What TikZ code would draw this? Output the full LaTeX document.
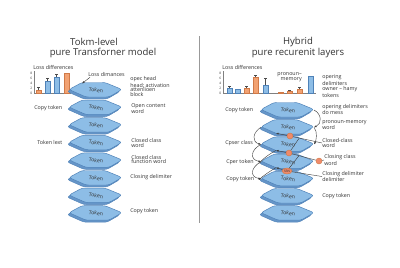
\documentclass[tikz,border=0pt]{standalone}
\usepackage{fontspec}
\setmainfont{Open Sans}
\usetikzlibrary{arrows.meta,shapes.geometric}
\definecolor{tokfill}{HTML}{8DBDE6}
\definecolor{tokline}{HTML}{4F82B8}
\definecolor{tokshade}{HTML}{6595C8}
\definecolor{barblue}{HTML}{8DBDE6}
\definecolor{barorange}{HTML}{F2A272}
\definecolor{barorangeline}{HTML}{D07A48}
\definecolor{dotorange}{HTML}{F08A6A}
\definecolor{txt}{HTML}{333333}
\tikzset{
  ttl/.style={font=\fontsize{6.8}{8.5}\selectfont, text=txt, inner sep=0},
  lbl/.style={font=\fontsize{3.8}{3.4}\selectfont, text=txt, align=left, anchor=west, inner sep=0},
  lblr/.style={font=\fontsize{3.8}{3.4}\selectfont, text=txt, align=right, anchor=east, inner sep=0},
  tiny/.style={font=\fontsize{2.3}{2.3}\selectfont, text=txt, inner sep=0, anchor=east},
  toktext/.style={font=\fontsize{3.7}{3.7}\selectfont, text=txt, rotate=-7, inner sep=0},
  conn/.style={draw=black!75, line width=0.3pt},
  tip/.style={-{Latex[length=1.8,width=1.5]}},
  bblue/.style={fill=barblue, draw=tokline, line width=0.3pt},
  borange/.style={fill=barorange, draw=barorangeline, line width=0.3pt},
  errbar/.style={draw=black!70, line width=0.3pt},
  odot/.style={circle, fill=dotorange, draw=barorangeline, line width=0.3pt, minimum size=6*0.25mm, inner sep=0},
  axis/.style={draw=black!50, line width=0.3pt},
}
\newcommand\tokenat[3]{%
  \begin{scope}[shift={(#2,#3)}]
    \filldraw[fill=tokshade, draw=tokline, line width=0.3pt, rounded corners=1.8pt] (-29,1.5)--(-16,-5.5)--(7,-5.5)--(24,1.5)--(11,9)--(-12,9)--cycle;
    \filldraw[fill=tokfill, draw=tokline, line width=0.35pt, rounded corners=1.8pt] (-27,-0.5)--(-14,-7.5)--(9,-7.5)--(26,-0.5)--(13,7)--(-10,7)--cycle;
  \end{scope}
  \node[toktext] (#1) at (#2,#3) {Token};
  \coordinate (#1w) at (#2-27,#3);
  \coordinate (#1e) at (#2+26,#3);
  \coordinate (#1sw) at (#2-12,#3+6);
  \coordinate (#1ne) at (#2+11,#3-6);
  \coordinate (#1nw) at (#2-14,#3-6.5);
}
\newcommand\barat[5]{% style, x0, x1, top, errtop
  \path[#1] (#2,93) rectangle (#3,#4);
  \ifx&#5&\else
    \draw[errbar] ({(#2+#3)/2},#4) -- ({(#2+#3)/2},#5);
    \draw[errbar] ({(#2+#3)/2-1.2},#5) -- ({(#2+#3)/2+1.2},#5);
  \fi
}
\begin{document}
\begin{tikzpicture}[x=0.25mm, y=-0.25mm]
\useasboundingbox (0,0) rectangle (400,267);
\fill[white] (0,0) rectangle (400,267);

% divider
\draw[draw=black!40, line width=0.6pt] (199,36) -- (199,223);

% titles
\node[ttl] (lt1) at (94,42) {Tokm-level};
\node[ttl] (lt2) at (103,53) {pure Transforner model};
\node[ttl] (rt1) at (298,42) {Hybrid};
\node[ttl] (rt2) at (298,53) {pure recurenit layers};

% ---------- left chart
\node[lbl] (lcl) at (33,67) {Loss differences};
\draw[axis] (34,71) -- (34,93) -- (71,93);
\foreach \v/\yy in {8/73,6/78,4/83,2/88,0/93}{\node[tiny] at (32.5,\yy) {\v};}
\barat{borange}{36}{41}{90}{87}
\barat{bblue}{45}{50}{81}{78}
\barat{bblue}{54}{59}{77}{74}
\barat{borange}{64}{69}{73}{}

% ---------- right chart
\node[lbl] (rcl) at (222,67) {Loss differences};
\draw[axis] (223,71) -- (223,93) -- (316,93);
\foreach \v/\yy in {8/73,6/78,4/83,2/88,0/93}{\node[tiny] at (221.5,\yy) {\v};}
\barat{bblue}{227}{232}{88}{86}
\barat{bblue}{235}{240}{89}{}
\barat{borange}{244}{249}{88}{86}
\barat{borange}{253}{258}{77}{75}
\barat{bblue}{263}{268}{85}{78}
\barat{borange}{278}{283}{92}{}
\barat{borange}{287}{292}{91}{90}
\barat{borange}{297}{302}{89}{87}
\barat{bblue}{308}{313}{76}{}
\node[lblr] (pm) at (302,77) {pronoun–\\memory};
\node[lbl] (od) at (322,86) {opering\\delimiters\\owner – hamy\\tokens};

% ---------- left tokens
\foreach \i in {1,...,8}{
  \pgfmathsetmacro\yy{90+17.6*(\i-1)}
  \tokenat{l\i}{96}{\yy}
}
\node[lbl] (ldim) at (88,74) {Loss dimances};
\draw[conn, tip] (ldim.south west) ++(2,1) -- (l1nw);

\node[lbl] (la1) at (130,86.5) {opec head\\head; activation\\attenlioen\\block};
\node[lbl] (la2) at (131,108.5) {Open content\\word};
\node[lbl] (la3) at (131,143) {Closed class\\word};
\node[lbl] (la4) at (131,159.5) {Closed class\\function word};
\node[lbl] (la5) at (130,177) {Closing delimiter};
\node[lbl] (la6) at (130,211) {Copy token};
\node[lbl] (lb1) at (34,108) {Copy token};
\node[lbl] (lb2) at (37,142) {Token lext};

% ---------- right tokens
\foreach \i in {1,...,7}{
  \pgfmathsetmacro\yy{110+17.2*(\i-1)}
  \tokenat{r\i}{288}{\yy}
}
\node[lbl] (rb1) at (225,110) {Copy token};
\node[lbl] (rb2) at (225,143) {Cpser class};
\node[lbl] (rb3) at (226,162) {Cper token};
\node[lbl] (rb4) at (226,179) {Copy token};

\node[lbl] (ra1) at (322,109.5) {opering delimiters\\do mess};
\node[lbl] (ra2) at (322,125) {pronoun-memory\\word};
\node[lbl] (ra3) at (322,143) {Closed-class\\word};
\node[lbl] (ra4) at (324,160) {Closing class\\word};
\node[lbl] (ra5) at (322,176.5) {Closing delimiter\\delimiter};
\node[lbl] (ra6) at (322,196) {Copy token};

% loops
\draw[conn, tip] (r1e) .. controls (322,114) and (322,124) .. (r2e);
\draw[conn, tip] (r2e) .. controls (318,132) and (316,141) .. (r3e);
\draw[conn, tip] (r2w) .. controls (252,133) and (252,142) .. (r3w);
\draw[conn, tip] (r3w) .. controls (250,150) and (250,160) .. (r4w);
\draw[conn, tip] (r4w) .. controls (250,168) and (250,177) .. (r5w);
\draw[conn] (r3sw) .. controls (262,158) and (258,165) .. (r4w);
\draw[conn] (r4sw) .. controls (262,176) and (256,182) .. (r5w);

% circles and crossing lines
\node[odot] (c1) at (290,136) {};
\node[odot] (c2) at (289,153) {};
\node[odot] (c3) at (319,161) {};
\node[ellipse, fill=dotorange, draw=barorangeline, line width=0.3pt, minimum width=10*0.25mm, minimum height=6*0.25mm, inner sep=0, font=\fontsize{2.3}{2.3}\selectfont, text=txt] (sbn) at (287,171) {SBN};
\draw[conn, tip] (c1) -- (r2sw);
\draw[conn] (c1) -- (ra3.west);
\draw[conn, tip] (c2) -- (r3sw);
\draw[conn] (c2) -- (c3);
\draw[conn] (c3) -- (ra4.west);
\draw[conn, tip] (sbn) -- (r4sw);
\draw[conn] (sbn) -- (ra5.west);
\draw[conn] (c2) -- (r3ne);
\draw[conn] (sbn) -- (r4ne);
\end{tikzpicture}
\end{document}
